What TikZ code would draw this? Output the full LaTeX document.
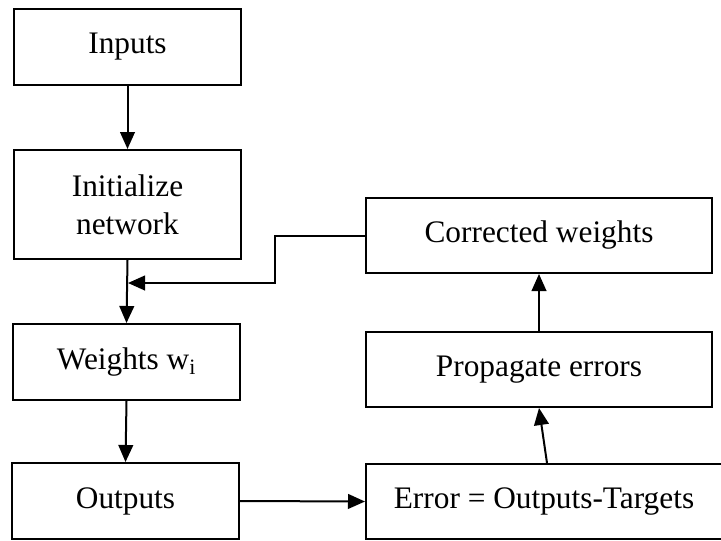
\documentclass[tikz,border=0pt]{standalone}
\usepackage{fontspec}
\setmainfont{Liberation Serif}
\usetikzlibrary{arrows.meta}
\begin{document}
\begin{tikzpicture}[x=0.75pt,y=-0.75pt,
  box/.style={draw,line width=1.5pt,rectangle,inner sep=0pt,align=center,
    font=\fontsize{23.5}{28.5}\selectfont},
  arr/.style={line width=1.5pt,-{Triangle[length=12.75pt,width=11pt]}}]
\useasboundingbox (0,0) rectangle (721,540);
\clip (0,0) rectangle (721,540);
\node[box,minimum width=170.25pt,minimum height=57pt] (inp) at (127.5,47) {Inputs};
\node[box,minimum width=170.25pt,minimum height=81.75pt] (init) at (127.5,204.5) {Initialize\\network};
\node[box,minimum width=170.25pt,minimum height=57pt] (wts) at (126.5,362) {Weights w\textsubscript{i}};
\node[box,minimum width=170.25pt,minimum height=57pt] (out) at (125.5,501) {Outputs};
\node[box,minimum width=267pt,minimum height=56.25pt] (err) at (544,501.5) {Error = Outputs-Targets};
\node[box,minimum width=259.5pt,minimum height=56.25pt] (prop) at (539,369.5) {Propagate errors};
\node[box,minimum width=259.5pt,minimum height=56.25pt] (corr) at (539,235.5) {Corrected weights};
\coordinate (bend) at (275,283);
\coordinate (join) at (128,283);
\draw[arr] (inp.south) -- (init.north);
\draw[arr] (init.south) -- (wts.north);
\draw[arr] (corr.west) -| (bend) -- (join);
\draw[arr] (wts.south) -- (out.north);
\draw[arr] (out.east) -- (err.west);
\draw[arr] ([xshift=2.25pt]err.north) -- (prop.south);
\draw[arr] (prop.north) -- (corr.south);
\end{tikzpicture}
\end{document}
